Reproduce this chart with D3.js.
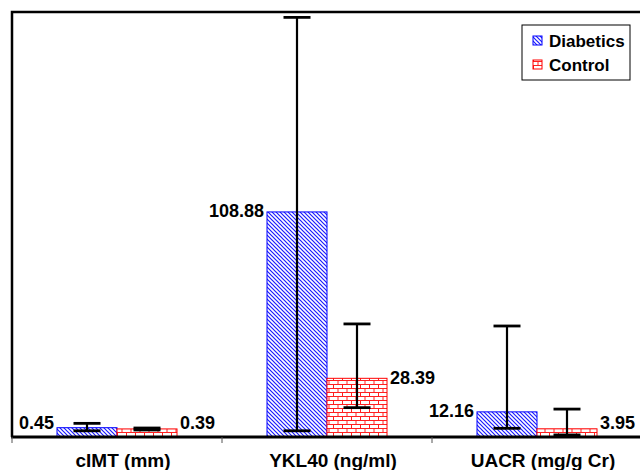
<!DOCTYPE html>
<html>
<head>
<meta charset="utf-8">
<script src="https://cdn.jsdelivr.net/npm/d3@7"></script>
<style>
  body { margin: 0; background: #fff; }
  text { font-family: "Liberation Sans", Arial, sans-serif; font-weight: bold; }
</style>
</head>
<body>
<svg id="chart" width="640" height="470"></svg>
<script>
// categories and series
const categories = ["cIMT (mm)", "YKL40 (ng/ml)", "UACR (mg/g Cr)"];
const seriesNames = ["Diabetics", "Control"];

// means as printed
const diabetics = [0.45, 108.88, 12.16];
const control = [0.39, 28.39, 3.95];

// error bar ends
const diabeticsLo = [0.30, 3.0, 4.2];
const diabeticsHi = [0.66, 203, 53.7];
const controlLo = [0.34, 14.2, 1.0];
const controlHi = [0.435, 54.7, 13.5];

// cIMT is drawn 10x larger than the printed value in the original
const drawFactor = [10, 1, 1];

const yMax = 205.6;

const svg = d3.select("#chart");
const margin = {top: 12, left: 12, bottom: 437};

const x = d3.scaleBand()
  .domain(categories)
  .range([margin.left, margin.left + 630]);

const x1 = d3.scaleBand()
  .domain(seriesNames)
  .range([0, x.bandwidth()])
  .paddingOuter(0.75);

const y = d3.scaleLinear()
  .domain([0, yMax])
  .range([margin.bottom, margin.top]);

// patterns
const defs = svg.append("defs");

const diag = defs.append("pattern")
  .attr("id", "diag")
  .attr("patternUnits", "userSpaceOnUse")
  .attr("width", 4)
  .attr("height", 4);
diag.append("rect").attr("width", 4).attr("height", 4).attr("fill", "#fff");
diag.append("path")
  .attr("d", "M0,0L4,4M-1,3L1,5M3,-1L5,1")
  .attr("stroke", "#1a1aff")
  .attr("stroke-width", 1.2);

const brick = defs.append("pattern")
  .attr("id", "brick")
  .attr("patternUnits", "userSpaceOnUse")
  .attr("width", 9)
  .attr("height", 8);
brick.append("rect").attr("width", 9).attr("height", 8).attr("fill", "#fff");
brick.append("path")
  .attr("d", "M0,0.5H9M0,4.5H9M0.5,0V4.5M5,4.5V8")
  .attr("stroke", "#ff2020")
  .attr("stroke-width", 1);

const series = [
  {name: "Diabetics", values: diabetics, lo: diabeticsLo, hi: diabeticsHi, fill: "url(#diag)", stroke: "#0000ff"},
  {name: "Control", values: control, lo: controlLo, hi: controlHi, fill: "url(#brick)", stroke: "#ff0000"}
];

const rows = [];
series.forEach(s => {
  categories.forEach((c, i) => {
    rows.push({
      cat: c, series: s.name, value: s.values[i],
      v: s.values[i] * drawFactor[i],
      lo: s.lo[i] * drawFactor[i],
      hi: s.hi[i] * drawFactor[i],
      fill: s.fill, stroke: s.stroke
    });
  });
});

// plot area border (left + top)
svg.append("path")
  .attr("d", `M${margin.left},${margin.bottom}V${margin.top}H660`)
  .attr("fill", "none")
  .attr("stroke", "#000")
  .attr("stroke-width", 2.5);

// bars
svg.append("g")
  .selectAll("rect")
  .data(rows)
  .join("rect")
    .attr("x", d => x(d.cat) + x1(d.series))
    .attr("y", d => y(d.v))
    .attr("width", x1.bandwidth())
    .attr("height", d => y(0) - y(d.v))
    .attr("fill", d => d.fill)
    .attr("stroke", d => d.stroke)
    .attr("stroke-width", 1);

// error bars
const err = svg.append("g").attr("stroke", "#000");
const cx = d => x(d.cat) + x1(d.series) + x1.bandwidth() / 2;
err.selectAll("line.v")
  .data(rows)
  .join("line")
    .attr("class", "v")
    .attr("x1", cx).attr("x2", cx)
    .attr("y1", d => y(d.lo)).attr("y2", d => y(d.hi))
    .attr("stroke-width", 2.2);
err.selectAll("line.cap")
  .data(rows.flatMap(d => [{d, v: d.lo}, {d, v: d.hi}]))
  .join("line")
    .attr("class", "cap")
    .attr("x1", e => cx(e.d) - 13.5).attr("x2", e => cx(e.d) + 13.5)
    .attr("y1", e => y(e.v)).attr("y2", e => y(e.v))
    .attr("stroke-width", 2.8);

// value labels
svg.append("g")
  .selectAll("text")
  .data(rows)
  .join("text")
    .attr("x", d => d.series === "Diabetics"
      ? x(d.cat) + x1(d.series) - 3
      : x(d.cat) + x1(d.series) + x1.bandwidth() + 3)
    .attr("y", d => Math.min(y(d.v) - 1, y(0) - 14))
    .attr("dy", "0.35em")
    .attr("text-anchor", d => d.series === "Diabetics" ? "end" : "start")
    .attr("font-size", 18)
    .text(d => d.value.toFixed(2));

// x axis: line, ticks at band edges, labels
svg.append("line")
  .attr("x1", margin.left - 1).attr("x2", 660)
  .attr("y1", margin.bottom).attr("y2", margin.bottom)
  .attr("stroke", "#000")
  .attr("stroke-width", 2.8);

svg.append("g")
  .selectAll("line")
  .data(categories.map(c => x(c)).concat([x(categories[2]) + x.bandwidth()]))
  .join("line")
    .attr("x1", d => d).attr("x2", d => d)
    .attr("y1", margin.bottom).attr("y2", margin.bottom + 6)
    .attr("stroke", "#555")
    .attr("stroke-width", 1);

svg.append("g")
  .selectAll("text")
  .data(categories)
  .join("text")
    .attr("x", d => x(d) + x.bandwidth() / 2 + 6)
    .attr("y", 467)
    .attr("text-anchor", "middle")
    .attr("font-size", 19)
    .text(d => d);

// legend
const legend = svg.append("g").attr("transform", "translate(522,25)");
legend.append("rect")
  .attr("width", 108).attr("height", 55)
  .attr("fill", "#fff")
  .attr("stroke", "#000")
  .attr("stroke-width", 1);
const item = legend.selectAll("g.item")
  .data(series)
  .join("g")
    .attr("class", "item")
    .attr("transform", (d, i) => `translate(11,${16 + i * 24})`);
item.append("rect")
  .attr("x", 0).attr("y", -5)
  .attr("width", 9).attr("height", 9)
  .attr("fill", d => d.fill)
  .attr("stroke", d => d.stroke)
  .attr("stroke-width", 1);
item.append("text")
  .attr("x", 16)
  .attr("dy", "0.35em")
  .attr("font-size", 17)
  .text(d => d.name);
</script>
</body>
</html>
